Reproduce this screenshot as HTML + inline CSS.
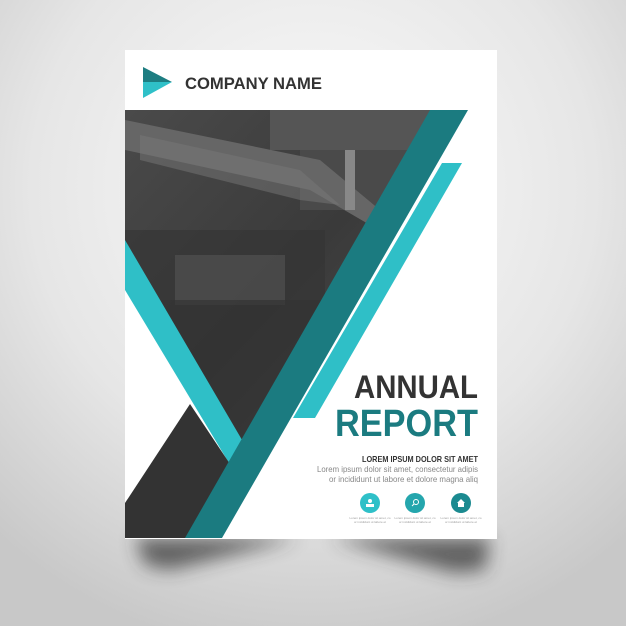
<!DOCTYPE html>
<html><head><meta charset="utf-8"><style>
html,body{margin:0;padding:0;width:626px;height:626px;overflow:hidden;background:#ddd}
svg{display:block}
text{font-family:"Liberation Sans",sans-serif}
</style></head><body>
<svg width="626" height="626" viewBox="0 0 626 626">
<defs>
<radialGradient id="bg" cx="0.5" cy="0.3" r="0.75">
<stop offset="0" stop-color="#fbfbfb"/><stop offset="0.6" stop-color="#e6e6e6"/><stop offset="1" stop-color="#c8c8c8"/>
</radialGradient>
<linearGradient id="photo" x1="0" y1="0" x2="1" y2="1">
<stop offset="0" stop-color="#4a4a4a"/><stop offset="0.5" stop-color="#3a3a3a"/><stop offset="1" stop-color="#505050"/>
</linearGradient>
<filter id="blur" x="-50%" y="-50%" width="200%" height="200%"><feGaussianBlur stdDeviation="9"/></filter>
<clipPath id="photoclip"><polygon points="125,110 432,110 240,445 125,245"/></clipPath>
</defs>
<rect width="626" height="626" fill="url(#bg)"/>
<g filter="url(#blur)" opacity="0.7">
<polygon points="135,538 300,538 170,570 145,565" fill="#333"/>
<polygon points="330,538 490,538 485,570 455,573" fill="#333"/>
</g>
<rect x="125" y="50" width="372" height="489" fill="#fff"/>
<g>
<polygon points="143,67 172,82 143,82" fill="#1d7d81"/>
<polygon points="143,82 172,82 143,98" fill="#2fc0c8"/>
</g>
<text x="185" y="89" font-size="17" font-weight="bold" fill="#333" textLength="137" lengthAdjust="spacingAndGlyphs">COMPANY NAME</text>
<g clip-path="url(#photoclip)">
<rect x="125" y="110" width="320" height="340" fill="url(#photo)"/>
<rect x="270" y="110" width="160" height="40" fill="#555"/>
<rect x="300" y="150" width="130" height="60" fill="#4a4a4a"/>
<polygon points="125,120 320,160 380,210 370,225 310,190 125,150" fill="#666"/>
<polygon points="140,135 300,170 340,205 300,200 140,160" fill="#777" opacity="0.5"/>
<rect x="125" y="230" width="200" height="70" fill="#333" opacity="0.6"/>
<rect x="175" y="255" width="110" height="50" fill="#555" opacity="0.6"/>
<rect x="125" y="300" width="200" height="150" fill="#2e2e2e" opacity="0.6"/>
<rect x="345" y="150" width="10" height="60" fill="#888"/>
</g>
<polygon points="125,240 245,445 232,468 125,290" fill="#2fbfc7"/>
<polygon points="125,503 190,404 238,476 205,538 125,538" fill="#333"/>
<polygon points="430,110 468,110 222,538 185,538" fill="#1b7b80"/>
<polygon points="442,163 462,163 315,418 293,418" fill="#2fbfc7"/>
<text x="478" y="398" font-size="32" font-weight="bold" fill="#333" text-anchor="end" textLength="124" lengthAdjust="spacingAndGlyphs">ANNUAL</text>
<text x="478" y="436" font-size="38" font-weight="bold" fill="#1b7b80" text-anchor="end" textLength="143" lengthAdjust="spacingAndGlyphs">REPORT</text>
<text x="478" y="462" font-size="8.5" font-weight="bold" fill="#333" text-anchor="end" textLength="116" lengthAdjust="spacingAndGlyphs">LOREM IPSUM DOLOR SIT AMET</text>
<text x="478" y="472" font-size="8.5" fill="#888" text-anchor="end" textLength="161" lengthAdjust="spacingAndGlyphs">Lorem ipsum dolor sit amet, consectetur adipis</text>
<text x="478" y="482" font-size="8.5" fill="#888" text-anchor="end" textLength="149" lengthAdjust="spacingAndGlyphs">or incididunt ut labore et dolore magna aliq</text>
<g>
<circle cx="370" cy="503" r="10" fill="#2fc0c8"/>
<rect x="366" y="504" width="8" height="3" fill="#fff"/><circle cx="370" cy="501" r="2" fill="#fff"/>
<text x="370" y="519" font-size="3" fill="#999" text-anchor="middle">Lorem ipsum dolor sit amet, co</text>
<text x="370" y="523" font-size="3" fill="#999" text-anchor="middle">or incididunt ut labore et</text>
</g>
<g>
<circle cx="415" cy="503" r="10" fill="#25a6ad"/>
<circle cx="416" cy="502" r="2.5" fill="none" stroke="#fff" stroke-width="1"/><line x1="414" y1="504" x2="412" y2="506" stroke="#fff" stroke-width="1"/>
<text x="415" y="519" font-size="3" fill="#999" text-anchor="middle">Lorem ipsum dolor sit amet, co</text>
<text x="415" y="523" font-size="3" fill="#999" text-anchor="middle">or incididunt ut labore et</text>
</g>
<g>
<circle cx="461" cy="503" r="10" fill="#1b8a90"/>
<polygon points="461,499 465,503 464,503 464,507 458,507 458,503 457,503" fill="#fff"/>
<text x="461" y="519" font-size="3" fill="#999" text-anchor="middle">Lorem ipsum dolor sit amet, co</text>
<text x="461" y="523" font-size="3" fill="#999" text-anchor="middle">or incididunt ut labore et</text>
</g>
</svg>
</body></html>
